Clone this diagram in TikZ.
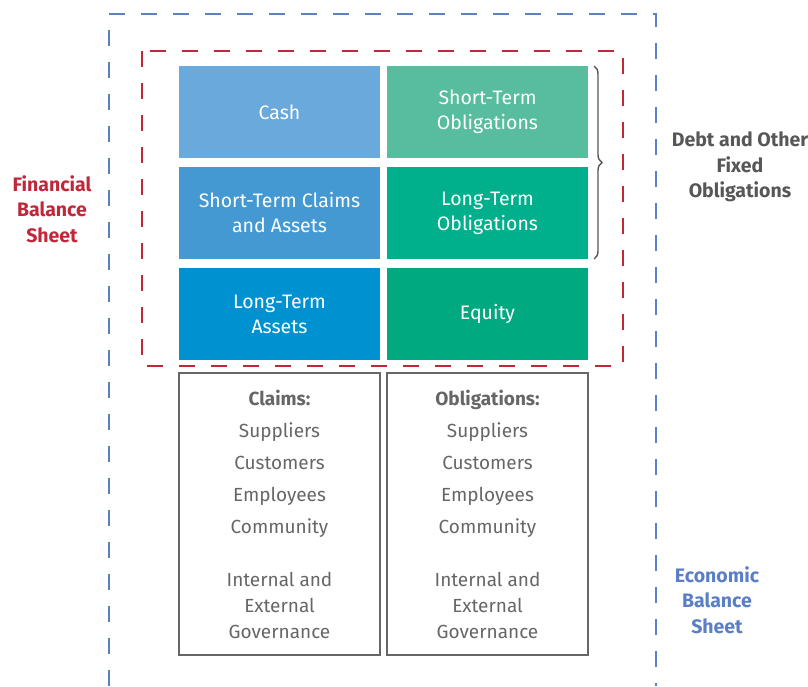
\documentclass[tikz,border=0pt]{standalone}
\usepackage{fontspec}
\setmainfont{Fira Sans}
\usetikzlibrary{positioning, decorations.pathreplacing}
\definecolor{cashblue}{HTML}{6AA9DC}
\definecolor{claimblue}{HTML}{4599D3}
\definecolor{assetblue}{HTML}{0092D0}
\definecolor{stgreen}{HTML}{57BD9E}
\definecolor{ltgreen}{HTML}{00AF8C}
\definecolor{eqgreen}{HTML}{00A97F}
\definecolor{finred}{HTML}{C0283A}
\definecolor{ecoblue}{HTML}{5B7FC4}
\definecolor{txtgray}{HTML}{666666}
\tikzset{
x=1pt, y=-1pt, % one unit is one pixel of the layout, y runs down
block/.style={minimum width=201pt, minimum height=92pt, inner sep=0pt, outer sep=0pt,
  text=white, align=center, font=\fontsize{19.5}{25}\selectfont}, % the coloured cells
infobox/.style={draw=txtgray, line width=1.6pt, minimum width=201pt, minimum height=282pt,
  inner sep=0pt, outer sep=0pt, text=txtgray, align=center, font=\fontsize{19}{32}\selectfont},
sidelabel/.style={align=center, font=\bfseries\fontsize{19.5}{25.5}\selectfont}, % the bold captions
frame/.style={line width=1.6pt, dash pattern=on 16pt off 16pt},
node distance=7pt,
}
\begin{document}
\begin{tikzpicture}
    \useasboundingbox (0,0) rectangle (808,686);
    % outer and inner frames
    \draw[frame, ecoblue] (109,686) -- (109,14) -- (656,14) -- (656,686);
    \draw[frame, finred] (142,51) rectangle (623,366);
    % balance sheet cells
    \node[block, fill=cashblue, anchor=north west] (cash) at (179,66) {Cash};
    \node[block, fill=stgreen, right=of cash] (stobl) {Short-Term\\Obligations};
    \node[block, fill=claimblue, below=9pt of cash] (stclaims) {Short-Term Claims\\and Assets};
    \node[block, fill=ltgreen, right=of stclaims] (ltobl) {Long-Term\\Obligations};
    \node[block, fill=assetblue, below=9pt of stclaims] (ltassets) {Long-Term\\Assets};
    \node[block, fill=eqgreen, right=of ltassets] (equity) {Equity};
    % stakeholder boxes
    \node[infobox, below=13pt of ltassets] (claims) {\textbf{Claims:}\\Suppliers\\Customers\\Employees\\Community\\[21pt]
      Internal and\\[-6pt]External\\[-6pt]Governance};
    \node[infobox, right=of claims] (obligations) {\textbf{Obligations:}\\Suppliers\\Customers\\Employees\\Community\\[21pt]
      Internal and\\[-6pt]External\\[-6pt]Governance};
    % brace over the debt cells
    \draw[decorate, decoration={brace, amplitude=8pt}, line width=1.4pt, draw=txtgray!85!black]
      ([xshift=6pt]stobl.north east) -- ([xshift=6pt]ltobl.south east);
    % captions
    \node[sidelabel, text=finred] (finlabel) at (52,209) {Financial\\Balance\\Sheet};
    \node[sidelabel, text=txtgray!85!black] (debtlabel) at (740,167) {Debt and Other\\Fixed\\Obligations};
    \node[sidelabel, text=ecoblue] (ecolabel) at (717,600) {Economic\\Balance\\Sheet};
\end{tikzpicture}
\end{document}
